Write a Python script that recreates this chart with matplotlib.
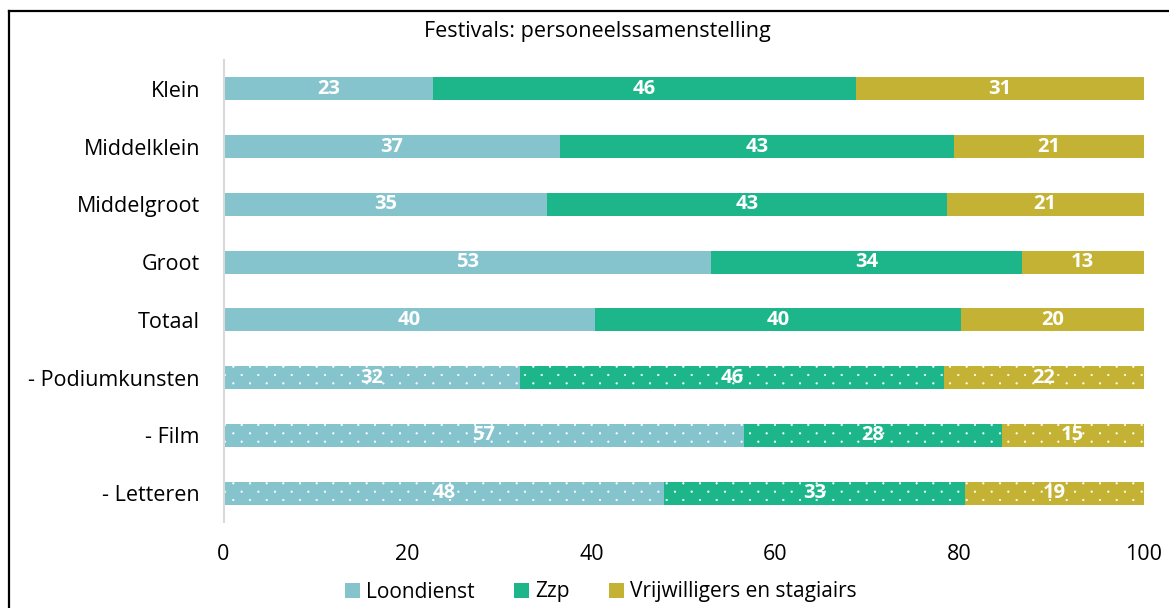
import numpy as np
import matplotlib
matplotlib.use("Agg")
import matplotlib.pyplot as plt
from matplotlib import hatch as mhatch
from matplotlib.path import Path
from matplotlib.lines import Line2D
from matplotlib.patches import Patch

# ---- data -------------------------------------------------------------
title = "Festivals: personeelssamenstelling"
categories = ["Klein", "Middelklein", "Middelgroot", "Groot", "Totaal",
              "- Podiumkunsten", "- Film", "- Letteren"]
series_names = ["Loondienst", "Zzp", "Vrijwilligers en stagiairs"]
loondienst = [22.8, 36.6, 35.2, 53.0, 40.4, 32.2, 56.6, 47.9]
zzp = [45.9, 42.8, 43.4, 33.8, 39.8, 46.1, 28.0, 32.7]
vrijwilligers = [31.3, 20.6, 21.4, 13.2, 19.8, 21.7, 15.4, 19.4]
dotted = [False, False, False, False, False, True, True, True]
x_ticks = [0, 20, 40, 60, 80, 100]

colors = ["#85C4CD", "#1DB68A", "#C4B234"]


# ---- sparse staggered dot hatch for the sub-categories ----------------
class StaggeredDots(mhatch.HatchPatternBase):
    cols_per_unit = 6
    rows_per_unit = 12
    radius = 0.008

    def __init__(self, hatch, density):
        self.n = hatch.count('.')
        circle = Path.unit_circle()
        self.shape_vertices = circle.vertices * self.radius
        self.shape_codes = circle.codes
        self.centres = self._centres() if self.n else np.empty((0, 2))
        self.num_vertices = len(self.centres) * len(self.shape_vertices)

    def _centres(self):
        nc = self.cols_per_unit * self.n
        nr = self.rows_per_unit * self.n
        pts = []
        for r in range(nr + 1):
            if r % 2 == 0:
                xs = np.arange(nc + 1) / nc
            else:
                xs = (np.arange(nc) + 0.5) / nc
            pts += [(x, r / nr) for x in xs]
        return np.array(pts)

    def set_vertices_and_codes(self, vertices, codes):
        np.concatenate([self.shape_vertices + c for c in self.centres], out=vertices)
        np.concatenate([self.shape_codes] * len(self.centres), out=codes)


mhatch._hatch_types = [StaggeredDots if t is mhatch.SmallFilledCircles else t
                       for t in mhatch._hatch_types]

plt.rcParams['font.family'] = ['Open Sans', 'DejaVu Sans']
plt.rcParams['hatch.color'] = 'white'
plt.rcParams['hatch.linewidth'] = 0.4

FS = 15.5
FS_LEGEND = 15
FS_BAR = 14.5

fig = plt.figure(figsize=(11.69, 6.08), dpi=100)
ax = fig.add_axes([223.5 / 1169, 1 - 522 / 608, (1143.5 - 223.5) / 1169, (522 - 60) / 608])

y = np.arange(len(categories))
left = np.zeros(len(categories))
for name, vals, col in zip(series_names, [loondienst, zzp, vrijwilligers], colors):
    vals = np.asarray(vals)
    bars = ax.barh(y, vals, left=left, height=0.4, color=col, label=name,
                   linewidth=0)
    for bar, d in zip(bars, dotted):
        if d:
            bar.set_hatch('.')
    for yi, l, v in zip(y, left, vals):
        ax.text(l + v / 2, yi, f"{v:.0f}", ha='center', va='center',
                color='white', fontsize=FS_BAR, fontweight='bold')
    left = left + vals

ax.set_xlim(0, 100)
ax.set_ylim(len(categories) - 0.5, -0.5)
ax.set_yticks(y)
ax.set_yticklabels(categories)
ax.set_xticks(x_ticks)
ax.tick_params(axis='both', length=0, labelsize=FS, colors='black')
ax.tick_params(axis='y', pad=17)
ax.tick_params(axis='x', pad=16)
for s in ['top', 'right', 'bottom']:
    ax.spines[s].set_visible(False)
ax.spines['left'].set_color('#D9D9D9')
ax.spines['left'].set_linewidth(1.5)

fig.text(597 / 1169, 1 - 31 / 608, title, ha='center', va='center', fontsize=FS)

handles = [Patch(facecolor=c, edgecolor='none') for c in colors]
fig.legend(handles, series_names, loc='center', bbox_to_anchor=(601 / 1169, 1 - 592 / 608),
           ncol=3, frameon=False, fontsize=FS_LEGEND, handlelength=0.7, handleheight=0.7,
           handletextpad=0.3, columnspacing=1.9, borderpad=0)

# outer frame (left and top edges)
fig.add_artist(Line2D([8.5 / 1169, 8.5 / 1169], [0, 1 - 11 / 608], color='black',
                      lw=1.6, transform=fig.transFigure))
fig.add_artist(Line2D([8.5 / 1169, 1], [1 - 11 / 608, 1 - 11 / 608], color='black',
                      lw=1.6, transform=fig.transFigure))

fig.savefig("out.png", dpi=100)
